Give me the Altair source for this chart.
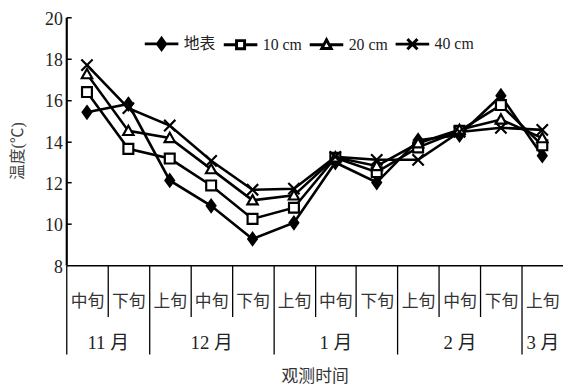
import altair as alt
import pandas as pd

# ---- data ----
xun = ["中旬", "下旬", "上旬", "中旬", "下旬", "上旬", "中旬", "下旬", "上旬", "中旬", "下旬", "上旬"]
month_labels = ["11 月", "12 月", "1 月", "2 月", "3 月"]
month_centers = [1, 3.5, 6.5, 9.5, 11.5]
month_bounds = [0, 2, 5, 8, 11]
series = ["地表", "10 cm", "20 cm", "40 cm"]
t_surface = [15.4, 15.8, 12.1, 10.87, 9.27, 10.05, 12.97, 12.0, 14.05, 14.3, 16.2, 13.3]
t_10cm = [16.38, 13.63, 13.16, 11.86, 10.24, 10.78, 13.2, 12.5, 13.7, 14.5, 15.75, 13.8]
t_20cm = [17.25, 14.5, 14.16, 12.65, 11.14, 11.38, 13.22, 12.8, 13.9, 14.55, 15.05, 14.15]
t_40cm = [17.68, 15.6, 14.76, 13.05, 11.65, 11.7, 13.24, 13.1, 13.1, 14.45, 14.65, 14.55]
y_ticks = [8, 10, 12, 14, 16, 18, 20]

rows = []
for s, vals in zip(series, [t_surface, t_10cm, t_20cm, t_40cm]):
    for i, v in enumerate(vals):
        rows.append({"series": s, "pos": i + 0.5, "temp": v})
df = pd.DataFrame(rows)

FONT = "Liberation Serif, Noto Sans CJK SC"
xscale = alt.Scale(domain=[0, 12], nice=False, zero=False)
yscale = alt.Scale(domain=[8, 20], nice=False, zero=False)

# marker paths for the data points
pt_shape = {
    "地表": "M0,-1L0.72,0L0,1L-0.72,0Z",
    "10 cm": "M-1,-1H1V1H-1Z",
    "20 cm": "M0,-1L1,0.8H-1Z",
    "40 cm": "M-1,-1L1,1M-1,1L1,-1",
}
pt_fill = {"地表": "black", "10 cm": "white", "20 cm": "white", "40 cm": "white"}
pt_size = {"地表": 150, "10 cm": 100, "20 cm": 110, "40 cm": 130}

# legend symbols: marker with line stubs
leg_paths = [
    "M-1,0H1M0,-0.33L0.24,0L0,0.33L-0.24,0Z",
    "M-1,0H-0.24M0.24,0H1M-0.24,-0.24H0.24V0.24H-0.24Z",
    "M-1,0H-0.16M0.16,0H1M0,-0.3L0.28,0.22H-0.28Z",
    "M-1,0H1M-0.3,-0.3L0.3,0.3M-0.3,0.3L0.3,-0.3",
]
leg_fills = ["black", "white", "white", "white"]
leg_strokes = ["black", "black", "black", "black"]

base = alt.Chart(df)

xun_expr = "[" + ",".join(f"'{t}'" for t in xun) + "][floor(datum.value)]"
month_expr = ("[" + ",".join(f"'{t}'" for t in month_labels) + "][indexof(["
              + ",".join(str(c) for c in month_centers) + "], datum.value)]")
long_test = "indexof([" + ",".join(str(b) for b in month_bounds) + "], datum.value) >= 0"

axis_ticks = alt.Axis(
    orient="bottom", values=list(range(12)), labels=False, ticks=True,
    tickSize={"condition": {"test": long_test, "value": 90}, "value": 52},
    tickColor="black", tickWidth=1.3, domain=True, domainColor="black",
    domainWidth=1.5, grid=False, title=None,
)
axis_y = alt.Axis(
    orient="left", values=y_ticks, ticks=False, labelPadding=4, labelOffset=2,
    labelBaseline="middle",
    labelFont=FONT, labelFontSize=18, labelColor="#222",
    domainColor="black", domainWidth=2.2, grid=False,
    title="温度(℃)", titleFont=FONT, titleFontSize=16, titleFontWeight="normal",
    titleColor="#444", titleX=-49, titleY=135, titleBaseline="middle", titleAlign="center",
)

lines = base.mark_line(color="black", strokeWidth=2.6).encode(
    x=alt.X("pos:Q", scale=xscale, axis=axis_ticks),
    y=alt.Y("temp:Q", scale=yscale, axis=axis_y),
    detail="series:N",
)

axis_xun = alt.Axis(
    orient="bottom", values=[i + 0.5 for i in range(12)], labelExpr=xun_expr,
    ticks=False, domain=False, labelPadding=37, labelBaseline="middle",
    labelFont=FONT, labelFontSize=17, labelColor="#333", grid=False, title=None,
    labelFlush=False, labelOverlap=False, labelBound=False,
)
axis_yin = alt.Axis(
    orient="right", offset=-503, values=y_ticks[1:], labels=False, domain=False,
    ticks=True, tickSize=5, tickWidth=1.5, tickColor="black", grid=False, title=None,
)

point_layers = []
for k, s in enumerate(series):
    layer = base.transform_filter(alt.datum.series == s).mark_point(
        shape=pt_shape[s], filled=True, fill=pt_fill[s], stroke="black",
        strokeWidth=2.2, size=pt_size[s], opacity=1,
    ).encode(
        x=alt.X("pos:Q", scale=xscale, axis=axis_xun if k == 0 else None),
        y=alt.Y("temp:Q", scale=yscale, axis=axis_yin if k == 0 else None),
    )
    point_layers.append(layer)

axis_month = alt.Axis(
    orient="bottom", values=month_centers, labelExpr=month_expr,
    ticks=False, domain=False, labelPadding=78, labelBaseline="middle",
    labelFont=FONT, labelFontSize=19, labelColor="#222", grid=False,
    labelFlush=False, labelOverlap=False, labelBound=False,
    title="观测时间", titleFont=FONT, titleFontSize=17, titleFontWeight="normal",
    titleColor="#333", titleY=113, titleBaseline="middle",
)

leg = alt.Legend(
    orient="none", legendX=78, legendY=8, direction="horizontal", columns=4,
    title=None, labelFont=FONT, labelFontSize=16, labelColor="#222",
    labelOffset=4, columnPadding=1, symbolStrokeWidth=3,
    symbolStrokeColor="black", symbolOpacity=1, padding=0, symbolSize=1156,
)

# legend-only layer: carries the legend and the month axis, draws no marks
legend_layer = base.transform_filter("false").mark_point(
    size=1156, opacity=1, filled=True, strokeWidth=3
).encode(
    x=alt.X("pos:Q", scale=xscale, axis=axis_month),
    y=alt.Y("temp:Q", scale=yscale, axis=None),
    shape=alt.Shape("series:N", scale=alt.Scale(domain=series, range=leg_paths), legend=leg),
    fill=alt.Fill("series:N", scale=alt.Scale(domain=series, range=leg_fills), legend=leg),
    stroke=alt.Stroke("series:N", scale=alt.Scale(domain=series, range=leg_strokes), legend=leg),
)

chart = alt.layer(lines, *point_layers, legend_layer).resolve_axis(
    x="independent", y="independent"
).properties(
    width=503, height=251,
    autosize=alt.AutoSizeParams(type="none"),
    padding={"left": 59, "top": 7, "right": 0, "bottom": 122},
    background="white",
).configure_view(stroke=None)

chart.save("out.html", embed_options={"renderer": "svg", "actions": False})
